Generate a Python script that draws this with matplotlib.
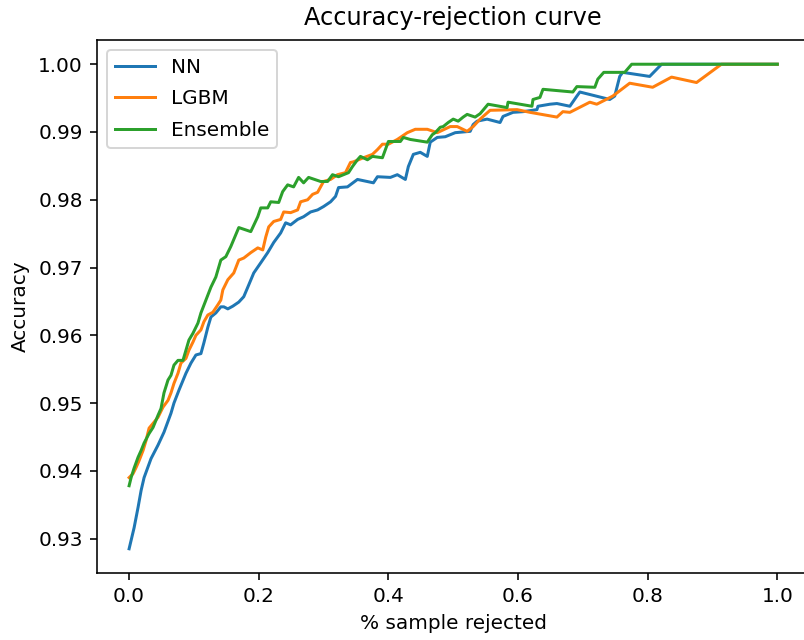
import matplotlib
matplotlib.use("Agg")
import matplotlib.pyplot as plt

################
## DATA
################

nn_x = [0.0, 0.0077, 0.0138, 0.0185, 0.0231, 0.0338, 0.0446, 0.0538, 0.0646,
        0.0692, 0.0769, 0.0877, 0.0954, 0.1031, 0.1108, 0.1154, 0.1215, 0.1262, 0.1338,
        0.1415, 0.1462, 0.1523, 0.16, 0.1692, 0.1769, 0.1831, 0.1923, 0.2031, 0.2138,
        0.2231, 0.2338, 0.2415, 0.2492, 0.26, 0.2692, 0.28, 0.2908, 0.3, 0.3108,
        0.3185, 0.3231, 0.3369, 0.3523, 0.3769, 0.3831, 0.4031, 0.4138, 0.4262, 0.4308,
        0.4385, 0.4492, 0.46, 0.4646, 0.4754, 0.4877, 0.5031, 0.5262, 0.5308, 0.5369,
        0.5523, 0.5723, 0.5769, 0.5923, 0.6077, 0.6292, 0.6308, 0.6492, 0.66, 0.68,
        0.6908, 0.6954, 0.7415, 0.7492, 0.7569, 0.7615, 0.8031, 0.8215, 1.0]
nn_acc = [0.9285, 0.9316, 0.9346, 0.9371, 0.9390, 0.9418, 0.9438, 0.9457, 0.9485,
          0.9500, 0.9519, 0.9544, 0.9559, 0.9571, 0.9573, 0.9589, 0.9612, 0.9627, 0.9633,
          0.9642, 0.9642, 0.9639, 0.9643, 0.9649, 0.9657, 0.9671, 0.9692, 0.9707, 0.9722,
          0.9737, 0.9751, 0.9766, 0.9763, 0.9771, 0.9775, 0.9782, 0.9785, 0.9790, 0.9797,
          0.9805, 0.9818, 0.9819, 0.9830, 0.9825, 0.9834, 0.9833, 0.9837, 0.9830, 0.9849,
          0.9867, 0.9870, 0.9864, 0.9885, 0.9892, 0.9893, 0.9899, 0.9901, 0.9911, 0.9916,
          0.9919, 0.9914, 0.9923, 0.9929, 0.9930, 0.9933, 0.9938, 0.9941, 0.9942, 0.9938,
          0.9953, 0.9959, 0.9948, 0.9953, 0.9982, 0.9988, 0.9982, 1.0, 1.0]

lgbm_x = [0.0, 0.0062, 0.0108, 0.0154, 0.0215, 0.0262, 0.0308, 0.0369, 0.0446, 0.0523,
          0.06, 0.0646, 0.0692, 0.0754, 0.08, 0.0877, 0.0923, 0.0985, 0.1031, 0.1108,
          0.1154, 0.1215, 0.1292, 0.1369, 0.1415, 0.1446, 0.1523, 0.1615, 0.1692, 0.1769,
          0.1877, 0.1985, 0.2062, 0.2108, 0.2154, 0.2231, 0.2338, 0.2385, 0.2492, 0.26,
          0.2646, 0.2754, 0.2831, 0.2908, 0.3, 0.3108, 0.3215, 0.3338, 0.3415, 0.3462,
          0.3615, 0.3754, 0.3831, 0.3908, 0.4, 0.4138, 0.4292, 0.4415, 0.46, 0.4754,
          0.4954, 0.5062, 0.5215, 0.5308, 0.5415, 0.5569, 0.5985, 0.6185, 0.66, 0.6692,
          0.68, 0.7108, 0.7215, 0.7462, 0.7723, 0.8077, 0.8369, 0.8754, 0.9138, 1.0]
lgbm_acc = [0.9390, 0.9396, 0.9405, 0.9415, 0.9430, 0.9445, 0.9463, 0.9470, 0.9479, 0.9494,
            0.9504, 0.9515, 0.9529, 0.9544, 0.9559, 0.9566, 0.9578, 0.9590, 0.9600, 0.9608,
            0.9620, 0.9630, 0.9634, 0.9645, 0.9652, 0.9667, 0.9682, 0.9692, 0.9711, 0.9714,
            0.9722, 0.9729, 0.9726, 0.9745, 0.9760, 0.9768, 0.9771, 0.9782, 0.9781, 0.9785,
            0.9797, 0.9800, 0.9808, 0.9811, 0.9827, 0.9830, 0.9837, 0.9840, 0.9855, 0.9856,
            0.9862, 0.9867, 0.9874, 0.9882, 0.9882, 0.9889, 0.9899, 0.9904, 0.9904, 0.9899,
            0.9908, 0.9908, 0.9901, 0.9908, 0.9919, 0.9932, 0.9933, 0.9929, 0.9922, 0.9930,
            0.9929, 0.9944, 0.9941, 0.9953, 0.9972, 0.9966, 0.9981, 0.9973, 1.0, 1.0]

ens_x = [0.0, 0.0031, 0.0077, 0.0138, 0.0185, 0.0231, 0.0308, 0.0369, 0.0446, 0.0492,
         0.0538, 0.06, 0.0646, 0.0692, 0.0754, 0.0831, 0.0877, 0.0923, 0.0985, 0.1062,
         0.1108, 0.1185, 0.1262, 0.1338, 0.1415, 0.1492, 0.1569, 0.1692, 0.1877, 0.1985,
         0.2031, 0.2138, 0.2185, 0.2308, 0.2369, 0.2446, 0.2538, 0.2615, 0.2692, 0.2769,
         0.2954, 0.3062, 0.3138, 0.3231, 0.3385, 0.3446, 0.3523, 0.3569, 0.3677, 0.3754,
         0.3908, 0.4, 0.4185, 0.4231, 0.4338, 0.46, 0.4677, 0.4723, 0.48, 0.4846,
         0.4923, 0.5, 0.5077, 0.5154, 0.5215, 0.5338, 0.5415, 0.5538, 0.5831, 0.5846,
         0.6215, 0.6231, 0.6338, 0.6385, 0.6846, 0.6908, 0.7185, 0.7231, 0.7323, 0.7646,
         0.7754, 1.0]
ens_acc = [0.9378, 0.9390, 0.9404, 0.9420, 0.9430, 0.9441, 0.9455, 0.9464, 0.9482, 0.9492,
           0.9515, 0.9534, 0.9541, 0.9556, 0.9563, 0.9563, 0.9578, 0.9593, 0.9603, 0.9618,
           0.9633, 0.9652, 0.9671, 0.9686, 0.9711, 0.9716, 0.9731, 0.9759, 0.9753, 0.9775,
           0.9788, 0.9788, 0.9797, 0.9796, 0.9812, 0.9822, 0.9819, 0.9833, 0.9825, 0.9833,
           0.9827, 0.9827, 0.9837, 0.9834, 0.9840, 0.9849, 0.9859, 0.9864, 0.9859, 0.9864,
           0.9862, 0.9886, 0.9886, 0.9892, 0.9889, 0.9885, 0.9896, 0.9899, 0.9907, 0.9908,
           0.9914, 0.9919, 0.9916, 0.9922, 0.9926, 0.9922, 0.9927, 0.9941, 0.9936, 0.9944,
           0.9938, 0.9948, 0.9951, 0.9963, 0.9959, 0.9967, 0.9966, 0.9978, 0.9988, 0.9988,
           1.0, 1.0]

series = [("NN", nn_x, nn_acc), ("LGBM", lgbm_x, lgbm_acc), ("Ensemble", ens_x, ens_acc)]

################
## PLOT
################

fig = plt.figure(figsize=(804 / 144, 640 / 144), dpi=144)
# right spine sits just past the image edge in the reference
ax = fig.add_axes([96.7 / 804, 67 / 640, 713 / 804, 533 / 640])

for name, xs, ys in series:
    ax.plot(xs, ys, label=name)

ax.set_title("Accuracy-rejection curve", pad=7.5)
ax.set_xlabel("% sample rejected")
ax.set_ylabel("Accuracy")
ax.legend(loc="upper left", labelspacing=0.62)

fig.savefig("out.png", dpi=144)
